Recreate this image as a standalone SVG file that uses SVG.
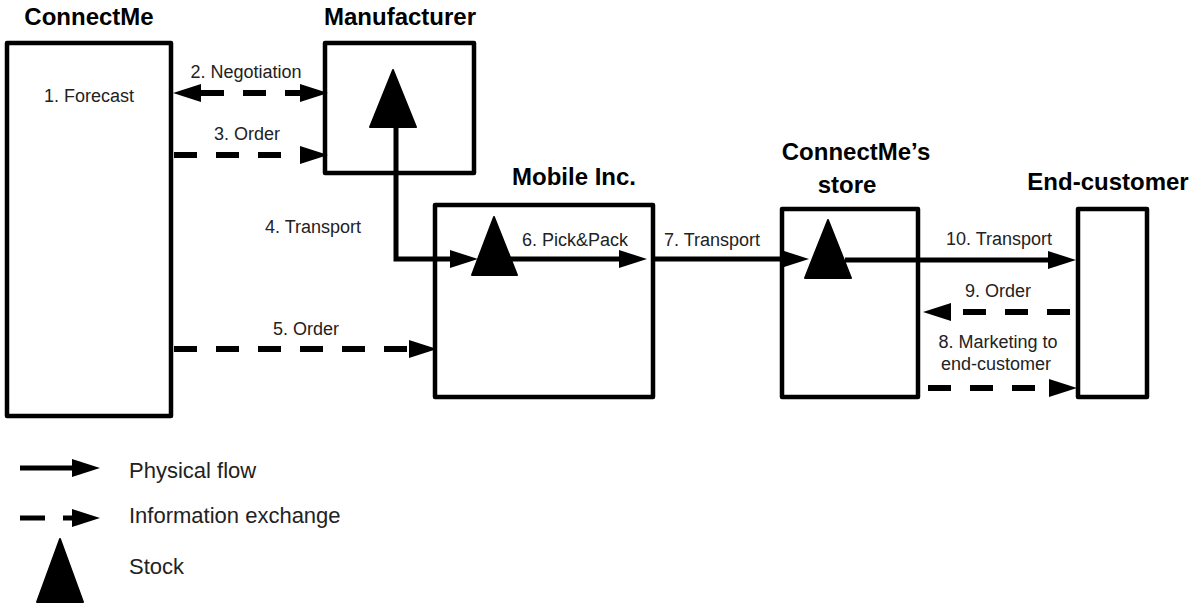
<svg xmlns="http://www.w3.org/2000/svg" width="1192" height="603" viewBox="0 0 1192 603">
  <style>
    .box { fill: #fff; stroke: #000; stroke-width: 4.5; stroke-linejoin: round; }
    .stock { fill: #000; stroke: #000; stroke-width: 2; stroke-linejoin: round; }
    .flow { fill: none; stroke: #000; stroke-width: 5; }
    .info { fill: none; stroke: #000; stroke-width: 6; stroke-dasharray: 23 19; }
    .title { font-family: "Liberation Sans", Arial, sans-serif; font-weight: bold; font-size: 24px; fill: #000; text-anchor: middle; }
    .lbl { font-family: "Liberation Sans", Arial, sans-serif; font-size: 18px; fill: #222; text-anchor: middle; }
    .leg { font-family: "Liberation Sans", Arial, sans-serif; font-size: 22px; fill: #222; }
  </style>
  <defs>
    <marker id="head" markerUnits="userSpaceOnUse" markerWidth="30" markerHeight="20" refX="0" refY="9" orient="auto-start-reverse" overflow="visible">
      <path d="M0,0 L28,9 L0,18 Z" fill="#000"/>
    </marker>
  </defs>

  <!-- actors -->
  <g id="connectme">
    <rect class="box" x="7" y="43" width="164" height="373"/>
    <text class="title" x="89" y="25">ConnectMe</text>
    <text class="lbl" x="89" y="102">1. Forecast</text>
  </g>
  <g id="manufacturer">
    <rect class="box" x="325" y="43" width="149" height="130"/>
    <text class="title" x="400" y="25">Manufacturer</text>
    <polygon class="stock" points="393,70 416,127 370,127"/>
  </g>
  <g id="mobile-inc">
    <rect class="box" x="435" y="205" width="218" height="192"/>
    <text class="title" x="574" y="185">Mobile Inc.</text>
    <polygon class="stock" points="494,217 517,275 472,275"/>
  </g>
  <g id="store">
    <rect class="box" x="782" y="209" width="136" height="188"/>
    <text class="title" x="856" y="160">ConnectMe’s</text>
    <text class="title" x="847" y="193">store</text>
    <polygon class="stock" points="828,220 851,278 805,278"/>
  </g>
  <g id="end-customer">
    <rect class="box" x="1078" y="209" width="69" height="188"/>
    <text class="title" x="1108" y="190">End-customer</text>
  </g>

  <!-- flows between actors -->
  <g id="connectors">
    <!-- 2. Negotiation (two-way) -->
    <path class="info" d="M201,93 L300,93" marker-start="url(#head)" marker-end="url(#head)"/>
    <text class="lbl" x="246" y="78">2. Negotiation</text>
    <!-- 3. Order -->
    <path class="info" d="M174,155 L300,155" marker-end="url(#head)"/>
    <text class="lbl" x="247" y="140">3. Order</text>
    <!-- 4. Transport -->
    <path class="flow" d="M396,127 L396,259 L450,259" marker-end="url(#head)"/>
    <text class="lbl" x="313" y="233">4. Transport</text>
    <!-- 5. Order -->
    <path class="info" d="M174,349 L409,349" marker-end="url(#head)"/>
    <text class="lbl" x="306" y="335">5. Order</text>
    <!-- 6. Pick&Pack -->
    <path class="flow" d="M510,259 L619,259" marker-end="url(#head)"/>
    <text class="lbl" x="575" y="246">6. Pick&amp;Pack</text>
    <!-- 7. Transport -->
    <path class="flow" d="M653,259 L781,259" marker-end="url(#head)"/>
    <text class="lbl" x="712" y="246">7. Transport</text>
    <!-- 10. Transport -->
    <path class="flow" d="M845,260 L1048,260" marker-end="url(#head)"/>
    <text class="lbl" x="999" y="245">10. Transport</text>
    <!-- 9. Order -->
    <path class="info" d="M1070,312 L951,312" marker-end="url(#head)"/>
    <text class="lbl" x="998" y="297">9. Order</text>
    <!-- 8. Marketing -->
    <path class="info" d="M928,388 L1049,388" marker-end="url(#head)"/>
    <text class="lbl" x="998" y="348">8. Marketing to</text>
    <text class="lbl" x="996" y="370">end-customer</text>
  </g>

  <!-- legend -->
  <g id="legend">
    <path class="flow" d="M20,468 L72,468" marker-end="url(#head)"/>
    <text class="leg" x="129" y="478">Physical flow</text>
    <path class="flow" d="M20,518 L45,518 M63,518 L72,518" marker-end="url(#head)"/>
    <text class="leg" x="129" y="523">Information exchange</text>
    <polygon class="stock" points="60,539 83,602 37,602"/>
    <text class="leg" x="129" y="574">Stock</text>
  </g>
</svg>
